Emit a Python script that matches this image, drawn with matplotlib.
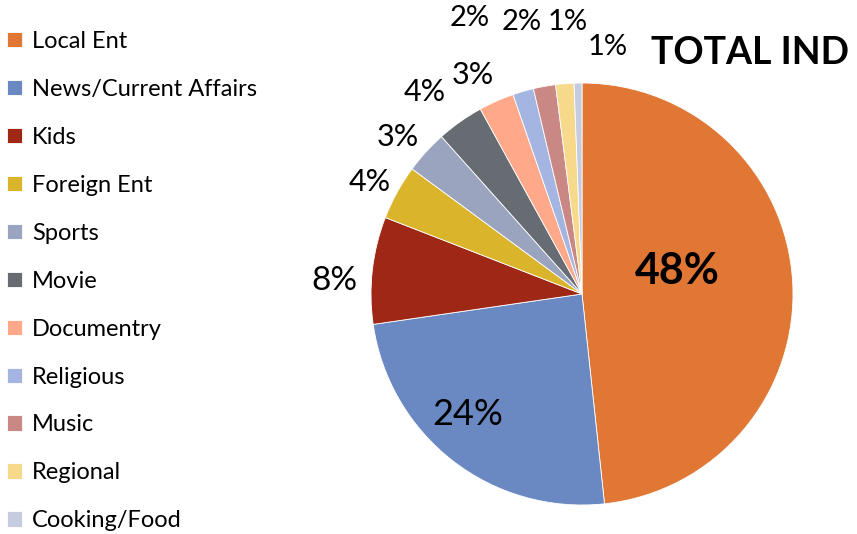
import matplotlib
matplotlib.use("Agg")
import matplotlib.pyplot as plt
import numpy as np

categories = ["Local Ent", "News/Current Affairs", "Kids", "Foreign Ent", "Sports",
              "Movie", "Documentry", "Religious", "Music", "Regional", "Cooking/Food"]
values = [48.3, 24.4, 8.2, 4.2, 3.3, 3.6, 2.7, 1.6, 1.7, 1.4, 0.6]
pct_labels = ["48%", "24%", "8%", "4%", "3%", "4%", "3%", "2%", "2%", "1%", "1%"]
colors = ["#E07734", "#6A88C2", "#9E2716", "#DAB52B", "#9AA4BE", "#676B72",
          "#FFA98A", "#A3B5E0", "#C98884", "#F6D98B", "#C5CCE0"]
title = "TOTAL IND"

# label placement (in pie-radius units, relative to centre)
label_xy = [(0.45, 0.11), (-0.54, -0.57), (-1.175, 0.06), (-1.005, 0.53),
            (-0.872, 0.744), (-0.744, 0.957), (-0.517, 1.038), (-0.531, 1.308),
            (-0.284, 1.289), (-0.066, 1.289), (0.123, 1.171)]
label_sizes = [31, 26, 24, 22, 22, 22, 22, 21, 21, 21, 21]

plt.rcParams['font.family'] = ['Lato', 'DejaVu Sans']

W, H = 857, 534
fig = plt.figure(figsize=(W / 100, H / 100), dpi=100)
cx, cy, r = 582, 534 - 294, 211
ax = fig.add_axes([(cx - r) / W, (cy - r) / H, 2 * r / W, 2 * r / H])
wedges, _ = ax.pie(values, colors=colors, startangle=90, counterclock=False,
                   radius=1, wedgeprops=dict(edgecolor="white", linewidth=0.6))
ax.set_xlim(-1, 1)
ax.set_ylim(-1, 1)
ax.set_axis_off()

for i, (lab, (x, y)) in enumerate(zip(pct_labels, label_xy)):
    ax.text(x, y, lab, fontsize=label_sizes[i], fontweight="bold" if i == 0 else "normal",
            ha="center", va="center")

fig.text(750 / W, 1 - 53 / H, title, fontsize=27, fontweight="bold", ha="center", va="center")

fig.legend(wedges, categories, loc="upper left", bbox_to_anchor=(0.0, 1 - 24 / H),
           frameon=False, fontsize=17, handlelength=0.62, handleheight=0.62,
           handletextpad=0.45, labelspacing=1.14, borderaxespad=0, borderpad=0.3)

fig.savefig("out.png", dpi=100)
